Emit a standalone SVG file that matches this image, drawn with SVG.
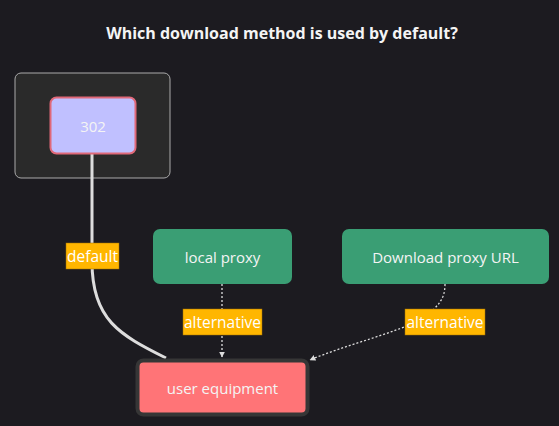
<svg xmlns="http://www.w3.org/2000/svg" width="559" height="426" viewBox="0 0 559 426">
<style>
text{font-family:"Open Sans","DejaVu Sans","Liberation Sans",sans-serif;fill:#f4f4f4;text-anchor:middle;dominant-baseline:central}
.lbl{fill:#ffb600;stroke:#a07000;stroke-width:0.5}
.lt{font-size:15.5px;fill:#fff}
.nt{font-size:15px}
.dash{fill:none;stroke:#dddddd;stroke-width:1.3;stroke-dasharray:2 2}
</style>
<defs>
<marker id="ah" viewBox="0 0 10 10" refX="9" refY="5" markerWidth="6" markerHeight="6" orient="auto-start-reverse" markerUnits="userSpaceOnUse">
<path d="M0,0 L10,5 L0,10 z" fill="#dddddd"/>
</marker>
</defs>
<rect width="559" height="426" fill="#1c1b20"/>
<text x="282" y="33" font-size="16" font-weight="bold">Which download method is used by default?</text>
<g id="cluster">
<rect x="15" y="73" width="155" height="105" rx="6" fill="#2a2a2a" stroke="#aaaaaa" stroke-width="1"/>
</g>
<g id="connectors">
<path d="M92,154 L92,262 C92,320 120,335 166,358" fill="none" stroke="#dddddd" stroke-width="3"/>
<path class="dash" d="M222,284 L222,357" marker-end="url(#ah)"/>
<path class="dash" d="M445,284 C445,300 438,305 425,318 C390,335 345,345 310,360" marker-end="url(#ah)"/>
<rect class="lbl" x="66" y="243" width="53" height="26"/>
<text class="lt" x="92.5" y="256">default</text>
<rect class="lbl" x="183" y="309" width="79" height="26"/>
<text class="lt" x="222.5" y="322">alternative</text>
<rect class="lbl" x="405" y="309" width="80" height="26"/>
<text class="lt" x="445" y="322">alternative</text>
</g>
<g id="n302">
<rect x="50.5" y="97.5" width="85" height="56" rx="6" fill="#c0c0ff" stroke="#e06878" stroke-width="2"/>
<text class="nt" x="93" y="126">302</text>
</g>
<g id="localproxy">
<rect x="153" y="229" width="139" height="55" rx="7" fill="#3a9e74"/>
<text class="nt" x="222.5" y="257">local proxy</text>
</g>
<g id="downloadproxy">
<rect x="342" y="229" width="207" height="55" rx="7" fill="#3a9e74"/>
<text class="nt" x="445.5" y="257">Download proxy URL</text>
</g>
<g id="ue">
<rect x="137.5" y="360.5" width="170" height="54" rx="6" fill="#ff7477" stroke="#363636" stroke-width="4"/>
<text class="nt" x="222.5" y="388">user equipment</text>
</g>
</svg>
